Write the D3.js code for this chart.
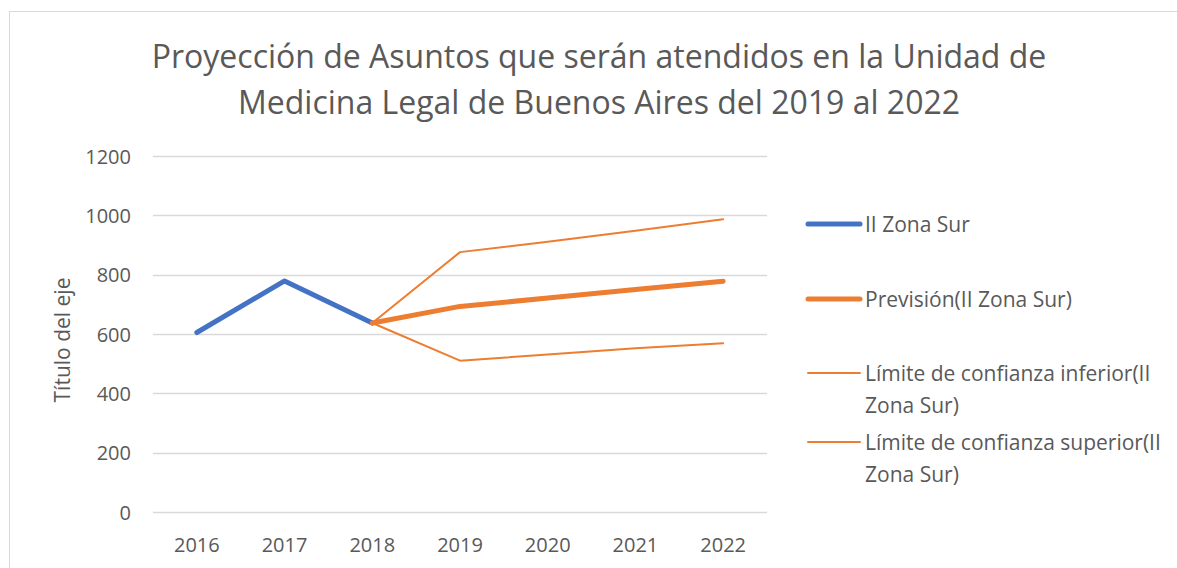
<!DOCTYPE html>
<html>
<head>
<meta charset="utf-8">
<script src="https://cdn.jsdelivr.net/npm/d3@7"></script>
<style>
  body { margin: 0; background: #fff; }
  svg text { font-family: "Open Sans", sans-serif; fill: #595959; }
</style>
</head>
<body>
<svg id="chart" width="1177" height="568"></svg>
<script>
// data
const years = ["2016", "2017", "2018", "2019", "2020", "2021", "2022"];
const historico = [605, 779, 637, null, null, null, null];
const prevision = [null, null, 637, 693, 721, 750, 778];
const limInferior = [null, null, 637, 510, 531, 552, 569];
const limSuperior = [null, null, 637, 876, 911, 948, 987];
const yTicks = [0, 200, 400, 600, 800, 1000, 1200];

const series = [
    { name: "II Zona Sur", values: historico, color: "#4472C4", width: 5, lines: ["II Zona Sur"] },
    { name: "Previsión(II Zona Sur)", values: prevision, color: "#ED7D31", width: 5, lines: ["Previsión(II Zona Sur)"] },
    { name: "Límite de confianza inferior(II Zona Sur)", values: limInferior, color: "#ED7D31", width: 2, lines: ["Límite de confianza inferior(II", "Zona Sur)"] },
    { name: "Límite de confianza superior(II Zona Sur)", values: limSuperior, color: "#ED7D31", width: 2, lines: ["Límite de confianza superior(II", "Zona Sur)"] },
];

const svg = d3.select("#chart");

// chart frame
svg.append("rect")
    .attr("x", 9.5).attr("y", 11.5)
    .attr("width", 1200).attr("height", 600)
    .attr("fill", "none").attr("stroke", "#d9d9d9");

const plot = { left: 153, right: 767, top: 156, bottom: 512 };

const x = d3.scaleBand().domain(years).range([plot.left, plot.right]);
const y = d3.scaleLinear().domain([0, 1200]).range([plot.bottom, plot.top]);

// gridlines
svg.append("g")
    .selectAll("line").data(yTicks).enter()
    .append("line")
    .attr("x1", plot.left).attr("x2", plot.right)
    .attr("y1", d => Math.round(y(d)) + 0.5).attr("y2", d => Math.round(y(d)) + 0.5)
    .attr("stroke", "#d9d9d9").attr("stroke-width", 1.3);

// y tick labels
svg.append("g")
    .selectAll("text").data(yTicks).enter()
    .append("text")
    .attr("x", 131).attr("y", d => y(d))
    .attr("text-anchor", "end").attr("dominant-baseline", "central")
    .style("font-size", "20px")
    .text(d => d);

// x tick labels
svg.append("g")
    .selectAll("text").data(years).enter()
    .append("text")
    .attr("x", d => x(d) + x.bandwidth() / 2).attr("y", 544)
    .attr("text-anchor", "middle").attr("dominant-baseline", "central")
    .style("font-size", "20px")
    .text(d => d);

// y axis title
svg.append("text")
    .attr("transform", "translate(62,340) rotate(-90)")
    .attr("text-anchor", "middle").attr("dominant-baseline", "central")
    .style("font-size", "21px")
    .text("Título del eje");

// title
const title = svg.append("text")
    .attr("text-anchor", "middle")
    .style("font-size", "32px");
title.append("tspan").attr("x", 599).attr("y", 68).text("Proyección de Asuntos que serán atendidos en la Unidad de");
title.append("tspan").attr("x", 599).attr("y", 114).text("Medicina Legal de Buenos Aires del 2019 al 2022");

// lines
const line = d3.line()
    .defined(d => d != null)
    .x((d, i) => x(years[i]) + x.bandwidth() / 2)
    .y(d => y(d));

svg.append("g")
    .selectAll("path").data(series).enter()
    .append("path")
    .attr("d", d => line(d.values))
    .attr("fill", "none")
    .attr("stroke", d => d.color)
    .attr("stroke-width", d => d.width)
    .attr("stroke-linecap", "round")
    .attr("stroke-linejoin", "round");

// legend
const legendY = [224, 299, 373, 442];
const legend = svg.append("g")
    .selectAll("g").data(series).enter()
    .append("g")
    .attr("transform", (d, i) => `translate(0,${legendY[i]})`);

legend.append("line")
    .attr("x1", 808).attr("x2", 860)
    .attr("stroke", d => d.color)
    .attr("stroke-width", d => d.width)
    .attr("stroke-linecap", "round");

legend.append("text")
    .style("font-size", "21px")
    .selectAll("tspan").data(d => d.lines).enter()
    .append("tspan")
    .attr("x", 865).attr("y", (d, i) => i * 32)
    .attr("dominant-baseline", "central")
    .text(d => d);
</script>
</body>
</html>
